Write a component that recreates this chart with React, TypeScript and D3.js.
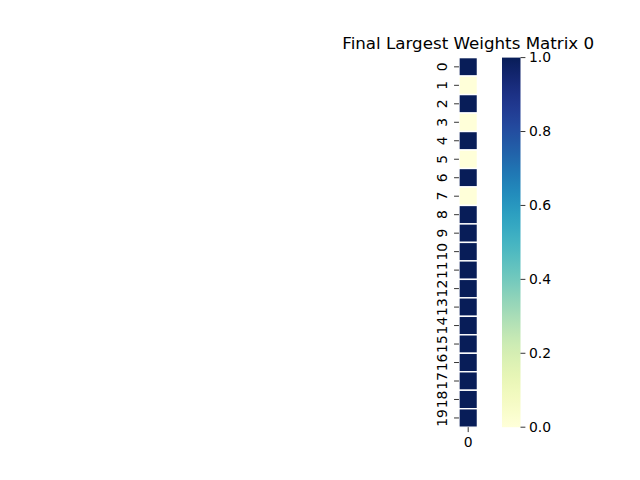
import React from "react";
import * as d3 from "d3";

const rowLabels = ["0","1","2","3","4","5","6","7","8","9","10","11","12","13","14","15","16","17","18","19"];
const colLabels = ["0"];
const values = [1,0,1,0,1,0,1,0,1,1,1,1,1,1,1,1,1,1,1,1];
const cbTicks = [0, 0.2, 0.4, 0.6, 0.8, 1.0];
const title = "Final Largest Weights Matrix 0";

export default function App() {
  const W = 640, H = 480;
  const top = 57.6, bottom = 427.2;
  const cell = (bottom - top) / rowLabels.length;
  const left = 468.2 - cell / 2;
  const y = d3.scaleBand().domain(rowLabels).range([top, bottom]);
  const x = d3.scaleBand().domain(colLabels).range([left, left + cell]);
  const color = (v: number) => d3.interpolateYlGnBu(v);
  const cbX = 502, cbW = 18.5;
  const cbY = d3.scaleLinear().domain([0, 1]).range([bottom, top]);
  const stops = d3.range(0, 1.0001, 0.02);
  const font = "DejaVu Sans, sans-serif";
  return (
    <svg width={W} height={H} style={{ position: "absolute", left: 0, top: 0 }} fontFamily={font}>
      <rect width={W} height={H} fill="#fff" />
      <defs>
        <linearGradient id="cb" x1="0" y1="1" x2="0" y2="0">
          {stops.map((s) => (
            <stop key={s} offset={s} stopColor={color(s)} />
          ))}
        </linearGradient>
      </defs>
      <text x={468.2} y={49} textAnchor="middle" fontSize={16.7} fill="#000">{title}</text>
      {rowLabels.map((r, i) => (
        <rect key={r} x={x("0")} y={y(r)} width={x.bandwidth()} height={y.bandwidth()}
          fill={color(values[i])} stroke="#fff" strokeWidth={1.4} />
      ))}
      {rowLabels.map((r) => {
        const yc = (y(r) as number) + y.bandwidth() / 2;
        return (
          <g key={"t" + r}>
            <line x1={left - 4.9} x2={left} y1={yc} y2={yc} stroke="#000" strokeWidth={0.8} />
            <text transform={`translate(${left - 11.5},${yc}) rotate(-90)`} textAnchor="middle" fontSize={13.9} fill="#000">{r}</text>
          </g>
        );
      })}
      {colLabels.map((c) => {
        const xc = (x(c) as number) + x.bandwidth() / 2;
        return (
          <g key={"c" + c}>
            <line x1={xc} x2={xc} y1={bottom} y2={bottom + 4.9} stroke="#000" strokeWidth={0.8} />
            <text x={xc} y={bottom + 20} textAnchor="middle" fontSize={13.9} fill="#000">{c}</text>
          </g>
        );
      })}
      <rect x={cbX} y={top} width={cbW} height={bottom - top} fill="url(#cb)" />
      {cbTicks.map((t) => (
        <g key={"cb" + t}>
          <line x1={cbX + cbW} x2={cbX + cbW + 4.9} y1={cbY(t)} y2={cbY(t)} stroke="#000" strokeWidth={0.8} />
          <text x={cbX + cbW + 8.4} y={cbY(t)} dy="0.35em" fontSize={13.9} fill="#000">{t.toFixed(1)}</text>
        </g>
      ))}
    </svg>
  );
}
